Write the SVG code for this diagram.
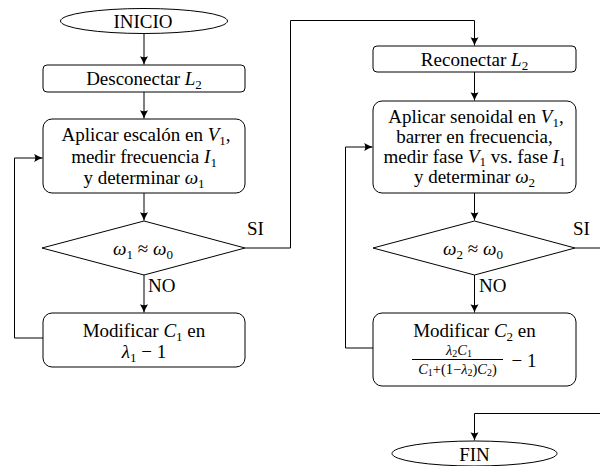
<svg xmlns="http://www.w3.org/2000/svg" width="600" height="466" viewBox="0 0 600 466" font-family="'Liberation Serif', 'DejaVu Serif', serif">
  <style>
    .shape { fill: #fff; stroke: #000; stroke-width: 1; }
    .wire { fill: none; stroke: #000; stroke-width: 1; }
    text { font-family: "Liberation Serif", "DejaVu Serif", serif; font-size: 19px; fill: #000; text-anchor: middle; }
    .m { font-style: italic; }
    .s { font-size: 13px; }
    .f { font-size: 14.5px; }
    .fs { font-size: 10px; }
    .lbl { text-anchor: start; }
  </style>
  <defs>
    <marker id="tip" markerUnits="userSpaceOnUse" markerWidth="10" markerHeight="10" viewBox="-8 -4 9 8" refX="0" refY="0" orient="auto">
      <path d="M-7.5,-3.6 Q-3,-1 0,0 Q-3,1 -7.5,3.6 Q-5.5,0 -7.5,-3.6 Z" fill="#000"/>
    </marker>
  </defs>

  <!-- connectors -->
  <g id="connectors" class="wire">
    <path d="M144,33.5 V64.5" marker-end="url(#tip)"/>
    <path d="M144,92 V118.5" marker-end="url(#tip)"/>
    <path d="M144,193 V220.5" marker-end="url(#tip)"/>
    <path d="M144,275 V312.5" marker-end="url(#tip)"/>
    <path d="M43,338 H14.5 V158 H42.5" marker-end="url(#tip)"/>
    <path d="M245,248 H290.5 V20.5 H474.5 V45.5" marker-end="url(#tip)"/>
    <path d="M474.5,72 V100.5" marker-end="url(#tip)"/>
    <path d="M474.5,193 V220.5" marker-end="url(#tip)"/>
    <path d="M474.5,275 V312.5" marker-end="url(#tip)"/>
    <path d="M373,348 H345.5 V147 H372.5" marker-end="url(#tip)"/>
    <path d="M575,248 H600"/>
    <path d="M600,413.5 H474.5 V440.5" marker-end="url(#tip)"/>
  </g>

  <!-- branch labels -->
  <g id="labels">
    <text class="lbl" x="247" y="235">SI</text>
    <text class="lbl" x="148" y="292">NO</text>
    <text class="lbl" x="573" y="235">SI</text>
    <text class="lbl" x="479" y="292">NO</text>
  </g>

  <g id="inicio">
    <ellipse class="shape" cx="144" cy="21" rx="83.5" ry="12.5"/>
    <text x="143" y="27.5">INICIO</text>
  </g>

  <g id="desconectar">
    <rect class="shape" x="43" y="65" width="202" height="27" rx="4"/>
    <text x="144" y="85">Desconectar <tspan class="m">L</tspan><tspan class="s" dy="3.5">2</tspan></text>
  </g>

  <g id="escalon">
    <rect class="shape" x="43" y="119" width="202" height="74" rx="9"/>
    <text x="146" y="141">Aplicar escalón en <tspan class="m">V</tspan><tspan class="s" dy="3.5">1</tspan><tspan dy="-3.5">,</tspan></text>
    <text x="144" y="163">medir frecuencia <tspan class="m">I</tspan><tspan class="s" dy="3.5">1</tspan></text>
    <text x="144" y="184">y determinar <tspan class="m">ω</tspan><tspan class="s" dy="3.5">1</tspan></text>
  </g>

  <g id="decision1">
    <polygon class="shape" points="144,221 245,248 144,275 42,248"/>
    <text x="143" y="255"><tspan class="m">ω</tspan><tspan class="s" dy="3.5">1</tspan><tspan dy="-3.5"> ≈ </tspan><tspan class="m">ω</tspan><tspan class="s" dy="3.5">0</tspan></text>
  </g>

  <g id="modificar1">
    <rect class="shape" x="43" y="313" width="202" height="54" rx="9"/>
    <text x="144" y="337">Modificar <tspan class="m">C</tspan><tspan class="s" dy="3.5">1</tspan><tspan dy="-3.5"> en</tspan></text>
    <text x="144" y="358"><tspan class="m">λ</tspan><tspan class="s" dy="3.5">1</tspan><tspan dy="-3.5"> − 1</tspan></text>
  </g>

  <g id="reconectar">
    <rect class="shape" x="373" y="46" width="203" height="26" rx="4"/>
    <text x="474.5" y="66">Reconectar <tspan class="m">L</tspan><tspan class="s" dy="3.5">2</tspan></text>
  </g>

  <g id="senoidal">
    <rect class="shape" x="373" y="101" width="203" height="92" rx="9"/>
    <text x="476" y="123">Aplicar senoidal en <tspan class="m">V</tspan><tspan class="s" dy="3.5">1</tspan><tspan dy="-3.5">,</tspan></text>
    <text x="474.5" y="143">barrer en frecuencia,</text>
    <text x="474.5" y="162.5">medir fase <tspan class="m">V</tspan><tspan class="s" dy="3">1</tspan><tspan dy="-3"> vs. fase </tspan><tspan class="m">I</tspan><tspan class="s" dy="3">1</tspan></text>
    <text x="474.5" y="183">y determinar <tspan class="m">ω</tspan><tspan class="s" dy="3.5">2</tspan></text>
  </g>

  <g id="decision2">
    <polygon class="shape" points="474.5,221 575,248 474.5,275 373,248"/>
    <text x="473" y="255"><tspan class="m">ω</tspan><tspan class="s" dy="3.5">2</tspan><tspan dy="-3.5"> ≈ </tspan><tspan class="m">ω</tspan><tspan class="s" dy="3.5">0</tspan></text>
  </g>

  <g id="modificar2">
    <rect class="shape" x="373" y="313" width="203" height="73" rx="9"/>
    <text x="474.5" y="337">Modificar <tspan class="m">C</tspan><tspan class="s" dy="3.5">2</tspan><tspan dy="-3.5"> en</tspan></text>
    <text class="f" x="459" y="354.5"><tspan class="m">λ</tspan><tspan class="fs" dy="2">2</tspan><tspan class="m" dy="-2">C</tspan><tspan class="fs" dy="2">1</tspan></text>
    <line x1="412" y1="359.5" x2="503" y2="359.5" stroke="#000" stroke-width="1.2"/>
    <text class="f" x="457.5" y="373.5"><tspan class="m">C</tspan><tspan class="fs" dy="2">1</tspan><tspan dy="-2">+(1−</tspan><tspan class="m">λ</tspan><tspan class="fs" dy="2">2</tspan><tspan dy="-2">)</tspan><tspan class="m">C</tspan><tspan class="fs" dy="2">2</tspan><tspan dy="-2">)</tspan></text>
    <text x="524" y="366.5">− 1</text>
  </g>

  <g id="fin">
    <ellipse class="shape" cx="474.5" cy="453.5" rx="82.5" ry="12.5"/>
    <text x="474.5" y="460.5">FIN</text>
  </g>
</svg>
